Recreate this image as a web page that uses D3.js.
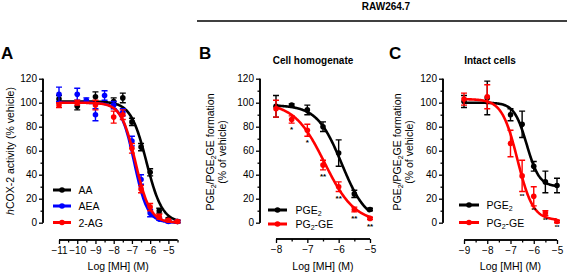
<!DOCTYPE html>
<html><head><meta charset="utf-8">
<script src="https://cdn.jsdelivr.net/npm/d3@7"></script>
<style>
body{margin:0;background:#fff;}
text{font-family:"Liberation Sans",Arial,sans-serif;}
</style></head>
<body><svg id="c" width="567" height="274"></svg>
<script>
// ---------- DATA ----------
// Panel A : hCOX-2 activity (% vehicle)
const aTicks = [-11,-10,-9,-8,-7,-6,-5];
const aaX   = [-11,-10,-9,-8,-7.5,-7,-6.5,-6,-5.5,-5,-4.5];
const aaY   = [103,97,105,101,104,84,63,42,10,3,1];
const aaE   = [3,3,4,3,4,3,3,3,2,1,1];
const aeaX  = [-11,-10,-9.5,-9,-8.5,-8,-7.5,-7,-6.5,-6,-5.5,-5,-4.5];
const aeaY  = [107,107,102,90,106,98,92,68,36,8,3,1,1];
const aeaE  = [6,5,2,5,4,3,3,4,4,3,1,1,1];
const agX   = [-11,-10,-9,-8,-7.5,-7,-6.5,-6,-5.5,-5,-4.5];
const agY   = [98,100,98,88,90,62,28,13,5,2,1];
const agE   = [2,2,4,5,4,4,3,3,2,1,1];
// fitted curves: [top, bottom, logIC50, hill]
const aaFit  = [101,0,-6.2,1.0];
const aeaFit = [100,0,-6.87,1.2];
const agFit  = [100,0,-6.8,1.1];

// Panel B : Cell homogenate
const bTicks = [-8,-7,-6,-5];
const bX     = [-8,-7.5,-7,-6.5,-6,-5.5,-5];
const bPgeY  = [97,98,94,80,58,24,11];
const bPgeE  = [9,1,4,4,11,3,1];
const bGeY   = [95,86,77,48,30,11,3.6];
const bGeE   = [7,3,5,4,4,2,1];
const bSig   = ["","*","*","**","**","**","**"];
const bPgeFit = [98,0,-5.9,1.1];
const bGeFit  = [100,0,-6.45,0.9];

// Panel C : Intact cells
const cTicks = [-9,-8,-7,-6,-5];
const cX     = [-9,-8,-7,-6.5,-6,-5.5,-5];
const cPgeY  = [101,104,90,82,47,34,31];
const cPgeE  = [5,14,5,11,4,9,6];
const cGeY   = [103,105,66,39,22,8,1];
const cGeE   = [5,10,11,13,8,2,1];
const cSig   = ["","","","**","**","**","**"];
const cPgeFit = [100,30,-6.3,1.6];
const cGeFit  = [103,2,-6.7,1.3];

const yTicks = [0,20,40,60,80,100,120];

// ---------- DRAW ----------
const svg = d3.select("#c");
const BLACK="#000", BLUE="#0000ff", RED="#ff0000";

function logistic(p){return x=>p[1]+(p[0]-p[1])/(1+Math.pow(10,(x-p[2])*p[3]));}

function panel(o){
  const g = svg.append("g");
  const x = d3.scaleLinear().domain(o.xDom).range(o.xRange);
  const y = d3.scaleLinear().domain([0,120]).range([222.7,78.7]);
  const ya = g.append("g").attr("transform",`translate(${o.yAxisX},0)`)
    .call(d3.axisLeft(y).tickValues(yTicks).tickSize(4).tickPadding(2));
  ya.append("g").call(d3.axisLeft(y).tickValues(d3.range(10,120,20)).tickSize(2.5).tickFormat(""));
  const xa = g.append("g").attr("transform",`translate(0,${o.xAxisY})`)
    .call(d3.axisBottom(x).tickValues(o.ticks).tickSize(4).tickPadding(3).tickFormat(d3.format("d")));
  const minors = d3.range(o.xDom[0],o.xDom[1]+0.001,0.5).filter(v=>!o.ticks.includes(v));
  xa.append("g").call(d3.axisBottom(x).tickValues(minors).tickSize(2.5).tickFormat(""));
  g.selectAll(".domain").attr("stroke","#000").attr("stroke-width",1.6);
  g.selectAll(".tick line").attr("stroke","#000").attr("stroke-width",1.3);
  g.selectAll(".tick text").attr("font-size",10).attr("fill","#000")
    .attr("font-family","'Liberation Sans',Arial,sans-serif");
  ya.selectAll(".domain").attr("d",`M0,${y(0)}V${y(120)}`);
  xa.selectAll(".domain").attr("d",`M${x(o.xDom[0])},0H${x(o.xDom[1])}`);
  g.append("text").attr("x",(o.xRange[0]+o.xRange[1])/2).attr("y",270).attr("text-anchor","middle")
    .attr("font-size",10.5).text("Log [MH] (M)");
  o.series.forEach(s=>{
    const f = logistic(s.fit);
    const pts = d3.range(o.xDom[0],o.xDom[1]+0.0001,(o.xDom[1]-o.xDom[0])/200).map(v=>[v,f(v)]);
    const sg = g.append("g");
    sg.append("path").attr("d",d3.line().x(d=>x(d[0])).y(d=>y(d[1]))(pts))
      .attr("fill","none").attr("stroke",s.color).attr("stroke-width",2.6);
    s.xs.forEach((xv,i)=>{
      const cx=x(xv), y1=y(s.ys[i]+s.es[i]), y2=y(s.ys[i]-s.es[i]);
      sg.append("path").attr("d",`M${cx},${y1}V${y2}M${cx-3},${y1}H${cx+3}M${cx-3},${y2}H${cx+3}`)
        .attr("stroke",s.color).attr("stroke-width",1.4).attr("fill","none");
      sg.append("circle").attr("cx",cx).attr("cy",y(s.ys[i])).attr("r",2.8).attr("fill",s.color);
      if(s.sig && s.sig[i]) sg.append("text").attr("x",cx).attr("y",y2+s.sigDy).attr("text-anchor","middle")
        .attr("font-size",s.sigSize).attr("font-weight","bold").text(s.sig[i]);
    });
  });
  o.series.forEach((s,i)=>{
    const ly=o.legY[i];
    g.append("line").attr("x1",o.legX[0]).attr("x2",o.legX[1]).attr("y1",ly).attr("y2",ly)
      .attr("stroke",s.color).attr("stroke-width",3);
    g.append("circle").attr("cx",(o.legX[0]+o.legX[1])/2).attr("cy",ly).attr("r",2.8).attr("fill",s.color);
    const t=g.append("text").attr("x",o.legX[2]).attr("y",ly+4).attr("font-size",10.5);
    s.label.forEach(p=>t.append("tspan").attr("font-size",p[1]?7:10.5).attr("dy",p[1]?2:(p[2]?-2:0)).text(p[0]));
  });
  return {x,y,g};
}

panel({xDom:[-11,-4.5], xRange:[59,177.5], yAxisX:43, xAxisY:240, ticks:aTicks,
  legY:[190,206,222.5], legX:[53,71,78.5],
  series:[
    {xs:aaX,ys:aaY,es:aaE,fit:aaFit,color:BLACK,label:[["AA"]]},
    {xs:aeaX,ys:aeaY,es:aeaE,fit:aeaFit,color:BLUE,label:[["AEA"]]},
    {xs:agX,ys:agY,es:agE,fit:agFit,color:RED,label:[["2-AG"]]}
  ]});
panel({xDom:[-8,-5], xRange:[276,370], yAxisX:260, xAxisY:239, ticks:bTicks,
  legY:[210,224], legX:[268,287,295.5],
  series:[
    {xs:bX,ys:bPgeY,es:bPgeE,fit:bPgeFit,color:BLACK,label:[["PGE"],["2",true],["",false,true]]},
    {xs:bX,ys:bGeY,es:bGeE,fit:bGeFit,color:RED,sig:bSig,sigDy:9,sigSize:8,label:[["PG"],["2",true],["-GE",false,true]]}
  ]});
panel({xDom:[-9,-5], xRange:[464,557], yAxisX:443, xAxisY:240, ticks:cTicks,
  legY:[205,222.5], legX:[459,479,486.5],
  series:[
    {xs:cX,ys:cPgeY,es:cPgeE,fit:cPgeFit,color:BLACK,label:[["PGE"],["2",true],["",false,true]]},
    {xs:cX,ys:cGeY,es:cGeE,fit:cGeFit,color:RED,sig:cSig,sigDy:6,sigSize:6,label:[["PG"],["2",true],["-GE",false,true]]}
  ]});

function ytitle(cx,cy,lines){
  lines.forEach((ln,i)=>{
    const t=svg.append("text").attr("transform",`translate(${cx+i*12},${cy}) rotate(-90)`)
      .attr("text-anchor","middle").attr("font-size",10.5);
    ln.forEach(p=>{
      const ts=t.append("tspan").text(p[0]);
      if(p[1]==="sub") ts.attr("font-size",7).attr("dy",2);
      if(p[1]==="after") ts.attr("dy",-2);
      if(p[1]==="it") ts.attr("font-style","italic");
    });
  });
}
ytitle(14,151,[[["h","it"],["COX-2 activity (% vehicle)"]]]);
ytitle(214,152,[[["PGE"],["2","sub"],["/PGE","after"],["2","sub"],["GE formation","after"]],[["(% of vehicle)"]]]);
ytitle(401,152,[[["PGE"],["2","sub"],["/PGE","after"],["2","sub"],["GE formation","after"]],[["(% of vehicle)"]]]);

[["A",1],["B",199],["C",389]].forEach(d=>svg.append("text").attr("x",d[1]).attr("y",59)
  .attr("font-size",17).attr("font-weight","bold").text(d[0]));
svg.append("text").attr("x",313).attr("y",64).attr("text-anchor","middle").attr("font-size",10)
  .attr("font-weight","bold").text("Cell homogenate");
svg.append("text").attr("x",490).attr("y",64).attr("text-anchor","middle").attr("font-size",10)
  .attr("font-weight","bold").text("Intact cells");
svg.append("text").attr("x",386).attr("y",10).attr("text-anchor","middle").attr("font-size",10)
  .attr("font-weight","bold").text("RAW264.7");
svg.append("line").attr("x1",197).attr("x2",567).attr("y1",21).attr("y2",21)
  .attr("stroke","#000").attr("stroke-width",1.5);
</script></body></html>
